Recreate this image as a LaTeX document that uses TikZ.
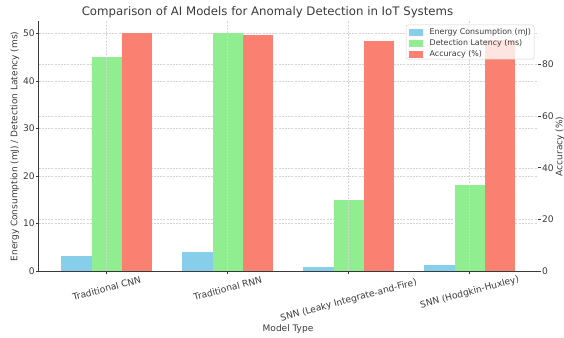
\documentclass[tikz,border=0pt]{standalone}
\usepackage{fontspec}
\setmainfont{DejaVu Sans}
\definecolor{skyb}{HTML}{87CEEB}
\definecolor{lgreen}{HTML}{90EE90}
\definecolor{salmonc}{HTML}{FA8072}
\definecolor{txt}{HTML}{3A3A3A}
\definecolor{gridc}{HTML}{D4D4D4}
\begin{document}
\begin{tikzpicture}[x=1pt,y=-1pt,
  tick/.style={font=\fontsize{9.1}{10}\selectfont,text=txt,inner sep=0pt},
  lab/.style={font=\fontsize{9}{10}\selectfont,text=txt,inner sep=0pt},
  gridl/.style={gridc,line width=0.45pt,dash pattern=on 2pt off 1.2pt},
  spine/.style={txt,line width=0.8pt},
  tickm/.style={txt,line width=0.6pt},
  legtext/.style={font=\fontsize{7.9}{9}\selectfont,text=txt,inner sep=0pt,anchor=west}]
\useasboundingbox (0,0) rectangle (564,337);
% horizontal grid, left axis
\foreach \v in {0,10,20,30,40,50} {
  \draw[gridl] (38.6,{271-4.754*\v}) -- (537.8,{271-4.754*\v});
}
% horizontal grid, right axis
\foreach \v in {20,40,60,80} {
  \draw[gridl] (38.6,{271-2.5818*\v}) -- (537.8,{271-2.5818*\v});
}
% blue and green bars
\foreach \i/\e/\d in {0/3.2/45,1/4.1/50,2/0.9/15,3/1.2/18} {
  \pgfmathsetmacro\cx{106.7+121*\i}
  \fill[skyb] ({\cx-45.375},271) rectangle ({\cx-15.125},{271-4.754*\e});
  \fill[lgreen] ({\cx-15.125},271) rectangle ({\cx+15.125},{271-4.754*\d});
}
% vertical grid
\foreach \i in {0,1,2,3} {
  \draw[gridl] ({106.7+121*\i},21.4) -- ({106.7+121*\i},271);
}
% red bars
\foreach \i/\a in {0/92,1/91.5,2/89,3/89.5} {
  \pgfmathsetmacro\cx{106.7+121*\i}
  \fill[salmonc] ({\cx+15.125},271) rectangle ({\cx+45.375},{271-2.5818*\a});
}
% spines
\draw[spine] (38.6,21.4) -- (38.6,271) -- (537.8,271);
% left ticks
\foreach \v in {0,10,20,30,40,50} {
  \draw[tickm] (35.6,{271-4.754*\v}) -- (38.6,{271-4.754*\v});
  \node[tick,anchor=east] (l\v) at (34.8,{271-4.754*\v}) {\v};
}
% right ticks
\foreach \v in {0,20,40,60,80} {
  \draw[tickm] (537.8,{271-2.5818*\v}) -- (540.8,{271-2.5818*\v});
  \node[tick,anchor=west] (r\v) at (542,{271-2.5818*\v}) {\v};
}
% x ticks
\foreach \i in {0,1,2,3} {
  \draw[tickm] ({106.7+121*\i},271) -- ({106.7+121*\i},274);
}
\node[tick,rotate=15] (x0) at (106.7,288.3) {Traditional CNN};
\node[tick,rotate=15] (x1) at (227.7,288.3) {Traditional RNN};
\node[tick,rotate=15] (x2) at (348.7,300.5) {SNN (Leaky Integrate-and-Fire)};
\node[tick,rotate=15] (x3) at (469.7,292.5) {SNN (Hodgkin-Huxley)};
% labels
\node[lab] (xl) at (288,329) {Model Type};
\node[lab,rotate=90] (yl) at (15,146.4) {Energy Consumption (mJ) / Detection Latency (ms)};
\node[lab,rotate=90] (yr) at (560,146.4) {Accuracy (\%)};
\node[font=\fontsize{11.75}{14}\selectfont,text=txt,inner sep=0pt] (title) at (267.5,12.5) {Comparison of AI Models for Anomaly Detection in IoT Systems};
% legend
\draw[rounded corners=2pt,draw=gridc,fill=white,fill opacity=0.8,line width=0.5pt] (406,25) rectangle (534,59);
\fill[skyb] (409,29) rectangle (423,36);
\fill[lgreen] (409,40) rectangle (423,47);
\fill[salmonc] (409,51) rectangle (423,58);
\node[legtext] (le) at (429.5,32.5) {Energy Consumption (mJ)};
\node[legtext] (ld) at (429.5,43.5) {Detection Latency (ms)};
\node[legtext] (la) at (429.5,54.5) {Accuracy (\%)};
\end{tikzpicture}
\end{document}
